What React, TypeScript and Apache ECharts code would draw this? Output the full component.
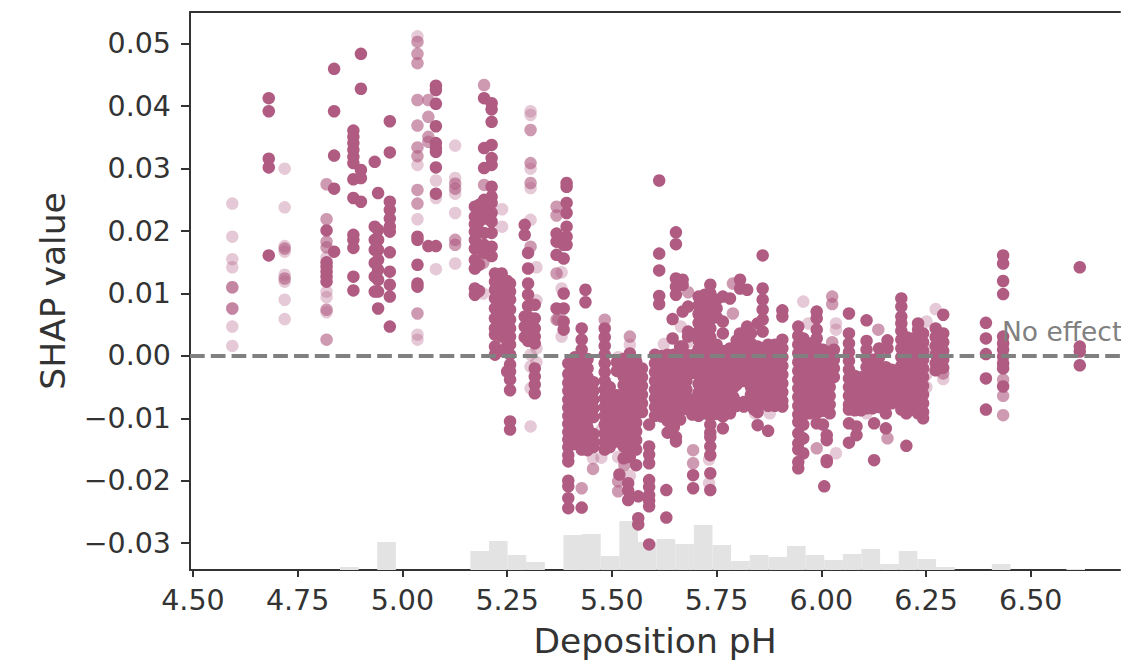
import React, { useEffect, useRef } from "react";
import * as echarts from "echarts";

const xTicks = [4.5, 4.75, 5, 5.25, 5.5, 5.75, 6, 6.25, 6.5];
const yTicks = [-0.03, -0.02, -0.01, 0, 0.01, 0.02, 0.03, 0.04, 0.05];
const noEffectLabel = "No effect";
const xLabel = "Deposition pH";
const yLabel = "SHAP value";

// bar heights of the marginal histogram, starting at histStart, one bin per histWidth
const histStart = 4.851;
const histWidth = 0.04446;
const histCounts = [3, 0, 28, 0, 0, 0, 0, 19, 29, 15, 8, 0, 35, 36, 14, 49, 28, 31, 26, 45, 25, 9, 15, 13, 24, 15, 10, 16, 21, 6, 19, 11, 3, 0, 0, 6, 0, 0, 0, 1];

// each row: pH, then SHAP values in thousandths
const faintColumns: [number, number[]][] = [
  [4.594, [24.4, 19.1, 15.5, 14.2, 11, 7.6, 4.7, 1.6]],
  [4.719, [30, 23.8, 17.6, 16.7, 13, 11.9, 9, 5.9]],
  [4.819, [15.8, 10.3, 9.4, 7]],
  [5.036, [51.2, 30.6, 21.9, 3.4, 2.6]],
  [5.08, [28.1, 25.3, 13.9]],
  [5.126, [33.7, 28.5, 26, 22.9, 14.8]],
  [5.238, [23.5, 20.7]],
  [5.306, [39.2, 38.6, 30, 26.9, 21.8, 0.2, -1.7, -5.2, -11.3]],
  [5.32, [14.2, 8.9, 1.2, -1]],
  [5.193, [10]],
  [5.38, [13.4, 10.8, 3.1]],
  [5.455, [-16.4]],
  [5.475, [-16.3, -11.8, -13]],
  [5.515, [-0.2, -16.2]],
  [5.543, [1.8, -19.2]],
  [5.624, [1.9]],
  [5.682, [2.2]],
  [5.665, [4.7]],
  [5.732, [-16.6, -20.4]],
  [5.842, [-9.2]],
  [5.877, [-9.2]],
  [5.957, [8.7]],
  [5.969, [5.2]],
  [6.035, [5.2, 4.2, -15.6]],
  [6.108, [-9.2]],
  [6.251, [5.5, 1, -3, -5]],
  [6.273, [7.5]],
  [6.291, [-3.7]],
];

const midColumns: [number, number[]][] = [
  [4.594, [11, 7.6]],
  [4.719, [17.2, 12.4]],
  [4.819, [27.5, 21.9, 18.3, 17.4, 7.4, 2.6]],
  [5.036, [50.3, 48.4, 46.9, 41, 36.9, 33.4, 32, 26.6, 24.4, 6.8]],
  [5.062, [41, 38.3, 35.1, 34.3]],
  [5.126, [27.6, 26.8, 18.6, 17.8]],
  [5.195, [43.4, 27.4]],
  [5.193, [14.9]],
  [5.306, [36.2, 30.9, 27.7]],
  [5.368, [23.9, 22.5, 13.2, 5.8]],
  [5.306, [17.5]],
  [5.372, [5.8]],
  [5.483, [5.8]],
  [5.455, [-18.1]],
  [5.428, [-21.2]],
  [5.53, [-17.5]],
  [5.515, [-20.1, -21.7]],
  [5.543, [3.1]],
  [5.682, [10.2]],
  [5.694, [-15.1, -17.2]],
  [5.789, [11.6, 6.8]],
  [5.989, [-14.8]],
  [6.026, [9.5, 8.3, 2.2]],
  [6.136, [4.2]],
  [6.158, [-13.2]],
  [6.291, [-2.8]],
  [6.434, [-3.8, -6.4, -9.5]],
];

const solidColumns: [number, number[]][] = [
  [4.681, [41.3, 39.2, 31.6, 30.2, 16.1]],
  [4.819, [20.1, 15, 14.3, 13.5, 12.7, 11.9]],
  [4.837, [46, 39.2, 32.1, 26.8, 16.7]],
  [4.883, [36.1, 35.1, 34.1, 33, 31.9, 30.9, 28.3, 25.3, 19.4, 18.6, 17.3, 12.7, 10.5]],
  [4.901, [48.4, 42.8, 29.8, 28.5, 24.7]],
  [4.934, [31.1, 20.7, 18.6, 17, 14.9, 12.7, 10.3]],
  [4.942, [26.1, 20.2, 18.6, 17, 15.4, 13.8, 12.2, 10.3, 7.6]],
  [4.97, [37.6, 32.6, 24.7, 23.4, 22, 20.7, 19.9, 16.6, 13.5, 11.4, 9.5, 4.7]],
  [5.036, [19.1, 18.6, 14.6, 11.6, 11.1]],
  [5.062, [17.6]],
  [5.08, [43.3, 42.6, 40.4, 36.8, 34.1, 33.3, 32.7, 30.2, 26, 17.6]],
  [5.173, [23.9, 22.3, 21.1, 19.9, 18.6, 17.2, 15.4, 14, 10.8, 9.8]],
  [5.183, [24.2, 21.5, 20, 17.6, 14.6, 10.4]],
  [5.195, [41.3, 33.3, 30.1, 25, 23.4, 22, 19.7, 17.8, 16.5]],
  [5.213, [40.5, 39.5, 37.5, 33.8, 31.7, 30.6, 27.1, 25.5, 24.5, 22.9, 21.5, 19.7, 17.5, 16]],
  [5.221, [13.2, 11.9, 10.6, 9.2, 7.6, 6, 4.4, 3.4, 1.5, 0.2]],
  [5.237, [13.2, 11.5, 10.3, 8.6, 7.2, 5.6, 4.7, 3.1, 0.8]],
  [5.25, [12, 10.6, 9, 7.5, 5.8, 4.4, 3, 1.6, -2.5]],
  [5.257, [11.6, 10.3, 9, 7.4, 5.8, 4.4, 3.1, 1.8, 0.2, -1.4, -2.5, -3.8, -5.5, -10.5, -11.8]],
  [5.292, [21, 19.4, 6.3, 4.7, 3]],
  [5.3, [16.5, 14, 11.6, 9.8, 8, 6.3, 4.7, 3.6, 2.4]],
  [5.316, [8.2, 6, 4.4, 3.1, 2, -2, -3.3, -4.6, -6]],
  [5.368, [19.6, 18.3, 16.2, 7.6]],
  [5.385, [17.8, 15.6, 10, 7.6, 5.5, 4.2]],
  [5.392, [27.7, 27.1, 24.5, 22.9, 20.7, 19.1, 17.8]],
  [5.437, [10.6, 8.6]],
  [5.396, [-1.2, -2.9, -4.3, -5.6, -7, -8.3, -9.6, -10.9, -12.2, -13.4, -14.6, -15.9, -16.9, -20, -20.9, -22.8, -24.4]],
  [5.412, [-0.2, -1.6, -3, -4.5, -5.8, -7.2, -8.7, -10.6, -11.8, -13.1, -14.1]],
  [5.428, [4.4, 2.6, 1, -0.4, -1.8, -3.2, -4.6, -6, -7.4, -8.8, -10.1, -11.5, -12.8, -14.2, -15, -24.3]],
  [5.442, [-0.5, -2, -3.4, -4.8, -6.2, -7.5, -9, -10.3, -11.5, -12.9, -14, -15.1]],
  [5.456, [-4.2, -5.6, -7, -8.4, -9.8, -12.5, -13.8, -14.6]],
  [5.483, [4.4, 3, 1.6, 0.2, -1.2, -2.6, -4, -5.4, -6.8, -8.2, -9.6, -11, -12.4, -13.8, -15]],
  [5.495, [-5, -6.4, -7.8, -9.2, -10.5, -11.8, -13.2, -14.6]],
  [5.512, [-1, -2.4, -6.3, -7, -8.4, -9.8, -11, -12.3, -13.7]],
  [5.528, [-0.5, -1.9, -3.3, -4.7, -6.1, -7.5, -8.9, -10.3, -11.7, -13.1, -14.5, -16.4]],
  [5.543, [0.4, -1, -2.4, -3.8, -5.2, -6.6, -8, -9.4, -10.8, -12.2, -13.6, -15, -16.2]],
  [5.558, [-0.9, -2.3, -3.7, -5.1, -6.5, -7.9, -9.3, -10.7, -12.1, -13.5, -15, -17.5]],
  [5.572, [-2, -3.4, -4.8, -6.2, -7.6, -9]],
  [5.518, [-19]],
  [5.539, [-20.4, -21.6, -23.1]],
  [5.563, [-22.5, -26, -27]],
  [5.589, [-11, -14.5, -15.8, -17.2, -19.9, -21, -22.3, -23.2, -24.1, -30.2]],
  [5.63, [-21.5, -25.9]],
  [5.603, [0.2, -1.2, -2.6, -4, -5.4, -6.8, -8.2, -9.6]],
  [5.613, [28.1, 16.4, 13.7, 9.6, 8.3]],
  [5.618, [0, -1.5, -2.9, -4.3, -5.7, -7.1, -8.5, -9.7]],
  [5.633, [0.2, -1.1, -2.5, -3.9, -5.3, -6.7, -8.1, -9.5, -10.4, -12.3]],
  [5.645, [5.9, 2.8]],
  [5.648, [0.2, -1.2, -2.4, -3.8, -5.2, -6.6, -8, -9.4, -10.9, -11.4]],
  [5.653, [19.8, 17.9, 12.4, 11.1, 9.8, -13, -13.7]],
  [5.663, [1.5, 0.1, -1.3, -2.7, -4.1, -5.5, -6.9, -8.6, -10.2]],
  [5.669, [12.2, 11.4, 7.1, 1.5]],
  [5.678, [0.2, -1.2, -2.6, -4, -5.4, -6.8, -8.5]],
  [5.682, [7.9, 3.9, 3.1]],
  [5.692, [0.1, -1.3, -2.7, -7, -8.1, -9.4]],
  [5.694, [-19.1, -21.2]],
  [5.707, [9.5, 8.1, 6.7, 5.3, 3.9, 2.5, 1.1, -0.3, -1.7, -3.1, -4.5, -5.9, -7.3, -8.7, -9.6]],
  [5.722, [9.8, 8.4, 7, 5.6, 4.2, 2.8, 1.4, 0, -1.4, -2.8, -4.2, -5.6, -7, -8.4, -9.2]],
  [5.735, [11.4, 10, 8.6, 7.2, 5.8, 4.4, 3, 1.6, 0.2, -1.2, -2.6, -4, -5.4, -6.8, -8.2, -9.6, -11, -12.3, -13, -14.5, -15.9, -18.8, -21.5]],
  [5.75, [9, 7.6, 6.2, 1.8, 0.4, -1, -2.4, -3.8, -5.2, -6.6, -8, -9.3]],
  [5.765, [9.5, 5.5, 3.6, 0.8, -0.6, -2, -3.4, -4.8, -6.2, -7.6, -9, -9.7, -11.6]],
  [5.782, [9.2, 1.2, -0.2, -1.6, -3, -4.4, -5.8, -7.2, -8.6, -9.2]],
  [5.79, [0.6, -0.9, -2.4, -3.7, -5.1, -6.6, -8.2]],
  [5.798, [2.5, 1, -0.4, -1.8, -3.2, -4.6, -7.4, -8]],
  [5.806, [12.2, 10.8, 3.6, 1.8]],
  [5.815, [2.8, 1.2, -0.2, -1.6, -3, -4, -7.4, -8.1]],
  [5.823, [10.6, 4.7, 3.6]],
  [5.832, [3.6, 2, 0.6, -0.8, -2.2, -3.6, -5, -6.2, -7.3, -8]],
  [5.84, [1.1, -0.3, -1.8, -3.3, -4.8, -6, -7.5, -8.6]],
  [5.848, [5.2, 1.5, 0.1, -1.3, -2.7, -4.1, -5.5, -6.9, -8.3, -9, -11.1]],
  [5.86, [16.1, 10.8, 9, 7.4, 5.8, 3.9, 1.2, -0.2, -1.6, -3, -4.4, -5.8, -7.2]],
  [5.873, [1.8, 0.3, -1.1, -2.5, -3.9, -5.3, -6.5, -8, -12]],
  [5.881, [0.9, -0.4, -1.9, -3.2, -4.7, -6.1, -7.3]],
  [5.889, [1.8, 0.4, -1, -2.4, -3.8, -5.2, -6.6, -8]],
  [5.898, [0.9, -0.7, -2, -3.3, -4.8, -6.1, -7.7]],
  [5.907, [7.3, 6.3, 2.6, 1.2, -0.2, -1.6, -3, -4.4, -5.8, -7.2, -8.1]],
  [5.945, [4.7, 3.2, 1.8, 0.4, -1, -2.4, -3.8, -5.2, -6.6, -8, -9.4, -10.6, -12.4, -14, -15, -17, -18]],
  [5.957, [2.8, 1.4, 0, -1.4, -2.8, -4.2, -5.6, -7, -8.4, -9.5, -11, -13.2, -15.6]],
  [5.972, [2, 0.6, -0.8, -2.2, -3.6, -5, -6.4, -7.8, -9.2]],
  [5.989, [7.1, 6, 4.2, 2.8, 1.4, 0, -1.4, -2.8, -4.2, -5.6, -7, -8.4, -9.2, -10.8]],
  [6.004, [1, -0.4, -1.8, -3.2, -4.6, -6, -7.4, -8.8, -11]],
  [6.013, [-12.7, -13.5, -16.7, -17]],
  [6.007, [-20.9]],
  [6.02, [0.6, -0.8, -2.2, -3.6, -5, -6.4, -7.8, -9.2]],
  [6.03, [1, -0.6, -2, -3.4]],
  [6.066, [6.8, 3.6, 2, 0.6, -0.8, -2.2, -3.6, -5, -6.4, -7.8, -8.6, -10.8, -13.9]],
  [6.08, [-3.2, -4.6, -6, -7.4, -8.7]],
  [6.084, [-11.3, -12.7]],
  [6.095, [-3.4, -4.8, -6.2, -7.6, -8.7]],
  [6.108, [5.7, 2.4, 1, -0.4, -1.8, -3.2, -4.6, -6, -7.4, -8.4]],
  [6.122, [-0.6, -2, -3.4, -4.8, -6.2, -7.6, -8.4]],
  [6.126, [-10.8, -16.7]],
  [6.138, [1.2, -0.2, -1.6, -3, -4.4, -5.8, -7.2, -8.2]],
  [6.154, [-1.8, -3.2, -4.6, -6, -7.4, -9.2, -11.6]],
  [6.158, [2.5, 1.2]],
  [6.168, [-2.2, -3.6, -5, -6.4, -7.6]],
  [6.191, [9.2, 7.9, 6.3, 5.2, 4, 2.6, 1.2, -0.2, -1.6, -3, -4.4, -5.8, -7.2, -8.6]],
  [6.203, [3, 1.6, 0.2, -1.2, -2.6, -4, -5.4, -6.8, -8.2, -9.2, -14.4]],
  [6.217, [2.8, 1.3, -0.1, -1.5, -2.9, -4.3, -5.5, -7, -8.6]],
  [6.231, [5.2, 4.2, 2.8, 1.4, 0, -1.4, -2.8, -4.2, -5.6, -7, -8.4, -9.2]],
  [6.243, [3.6, 2.2, 0.8, -0.6, -2, -3.4, -4.8, -6.2, -7.6, -9, -10]],
  [6.273, [4.4, 3, 1.6, 0.2, -1.2, -2.3]],
  [6.291, [6.6, 3.6, 2.2, 0.8, -0.6, -1.9]],
  [6.393, [5.3, 2.8, 0.3, -3.6, -8.6]],
  [6.434, [16.1, 14.8, 12, 9.9, 3.1, 2, 1, -0.1, -1.2, -2, -4.9]],
  [6.617, [14.2, 1.5, 0.7, -1.5]],
];

const flatten = (rows: [number, number[]][]) =>
  rows.flatMap(([ph, ys]) => ys.map((y) => [ph, y / 1000]));

const POINT = "#b05c82";
const INK = "#333333";
const xMin = 4.493;
const xMax = 6.713;

export default function App() {
  const ref = useRef<HTMLDivElement>(null);
  useEffect(() => {
    document.body.style.margin = "0";
    const chart = echarts.init(ref.current!, undefined, { renderer: "svg" });
    const histData = histCounts.map((c, i) => [histStart + i * histWidth, histStart + (i + 1) * histWidth, c]);
    const scatter = (data: number[][], opacity: number, z: number) => ({
      type: "scatter",
      xAxisIndex: 0,
      yAxisIndex: 0,
      data,
      symbol: "circle",
      symbolSize: 12.5,
      z,
      silent: true,
      itemStyle: { color: POINT, opacity },
    });
    chart.setOption({
      animation: false,
      backgroundColor: "#ffffff",
      grid: { left: 190, right: 1, top: 12, bottom: 91, outerBoundsMode: "none" },
      xAxis: [
        {
          type: "value",
          min: xMin,
          max: xMax,
          name: xLabel,
          nameLocation: "middle",
          nameGap: 53,
          nameTextStyle: { fontFamily: "DejaVu Sans", fontSize: 34.5, color: INK },
          axisLine: { show: true, onZero: false, lineStyle: { color: INK, width: 2 } },
          axisTick: { show: true, length: 7, customValues: xTicks, lineStyle: { color: INK, width: 2 } },
          axisLabel: {
            customValues: xTicks,
            fontFamily: "DejaVu Sans",
            fontSize: 28.5,
            color: INK,
            margin: 16,
            formatter: (v: number) => v.toFixed(2),
          },
          splitLine: { show: false },
        },
        {
          type: "value",
          position: "top",
          min: xMin,
          max: xMax,
          axisLine: { show: true, onZero: false, lineStyle: { color: INK, width: 2 } },
          axisTick: { show: false },
          axisLabel: { show: false },
          splitLine: { show: false },
        },
      ],
      yAxis: [
        {
          type: "value",
          min: -0.0343,
          max: 0.0551,
          name: yLabel,
          nameLocation: "middle",
          nameGap: 120,
          nameTextStyle: { fontFamily: "DejaVu Sans", fontSize: 34.5, color: INK },
          axisLine: { show: true, onZero: false, lineStyle: { color: INK, width: 2 } },
          axisTick: { show: true, length: 9, customValues: yTicks, lineStyle: { color: INK, width: 2 } },
          axisLabel: {
            customValues: yTicks,
            fontFamily: "DejaVu Sans",
            fontSize: 28.5,
            color: INK,
            margin: 19,
            formatter: (v: number) => (v < 0 ? "\u2212" + Math.abs(v).toFixed(2) : v.toFixed(2)),
          },
          splitLine: { show: false },
        },
        { type: "value", min: 0, max: 558, show: false },
      ],
      series: [
        {
          type: "custom",
          xAxisIndex: 0,
          yAxisIndex: 1,
          z: 1,
          silent: true,
          data: histData,
          renderItem: (_p: any, api: any) => {
            const a = api.coord([api.value(0), api.value(2)]);
            const b = api.coord([api.value(1), 0]);
            return {
              type: "rect",
              shape: { x: a[0], y: a[1], width: b[0] - a[0], height: b[1] - a[1] },
              style: { fill: "#e3e3e3" },
            };
          },
        },
        scatter(flatten(faintColumns), 0.33, 2),
        scatter(flatten(midColumns), 0.62, 3),
        {
          ...scatter(flatten(solidColumns), 1, 4),
          markLine: {
            silent: true,
            symbol: "none",
            label: { show: false },
            z: 10,
            lineStyle: { color: "#808080", width: 4, type: [14.7, 6.1], opacity: 1 },
            data: [{ yAxis: 0 }],
          },
        },
      ],
      graphic: [
        {
          type: "text",
          x: 1002,
          y: 331,
          z: 20,
          style: {
            text: noEffectLabel,
            fontFamily: "DejaVu Sans",
            fontSize: 26.5,
            fill: "#808080",
            verticalAlign: "middle",
          },
        },
      ],
    });
    return () => chart.dispose();
  }, []);
  return <div ref={ref} style={{ width: 1121, height: 661 }} />;
}
